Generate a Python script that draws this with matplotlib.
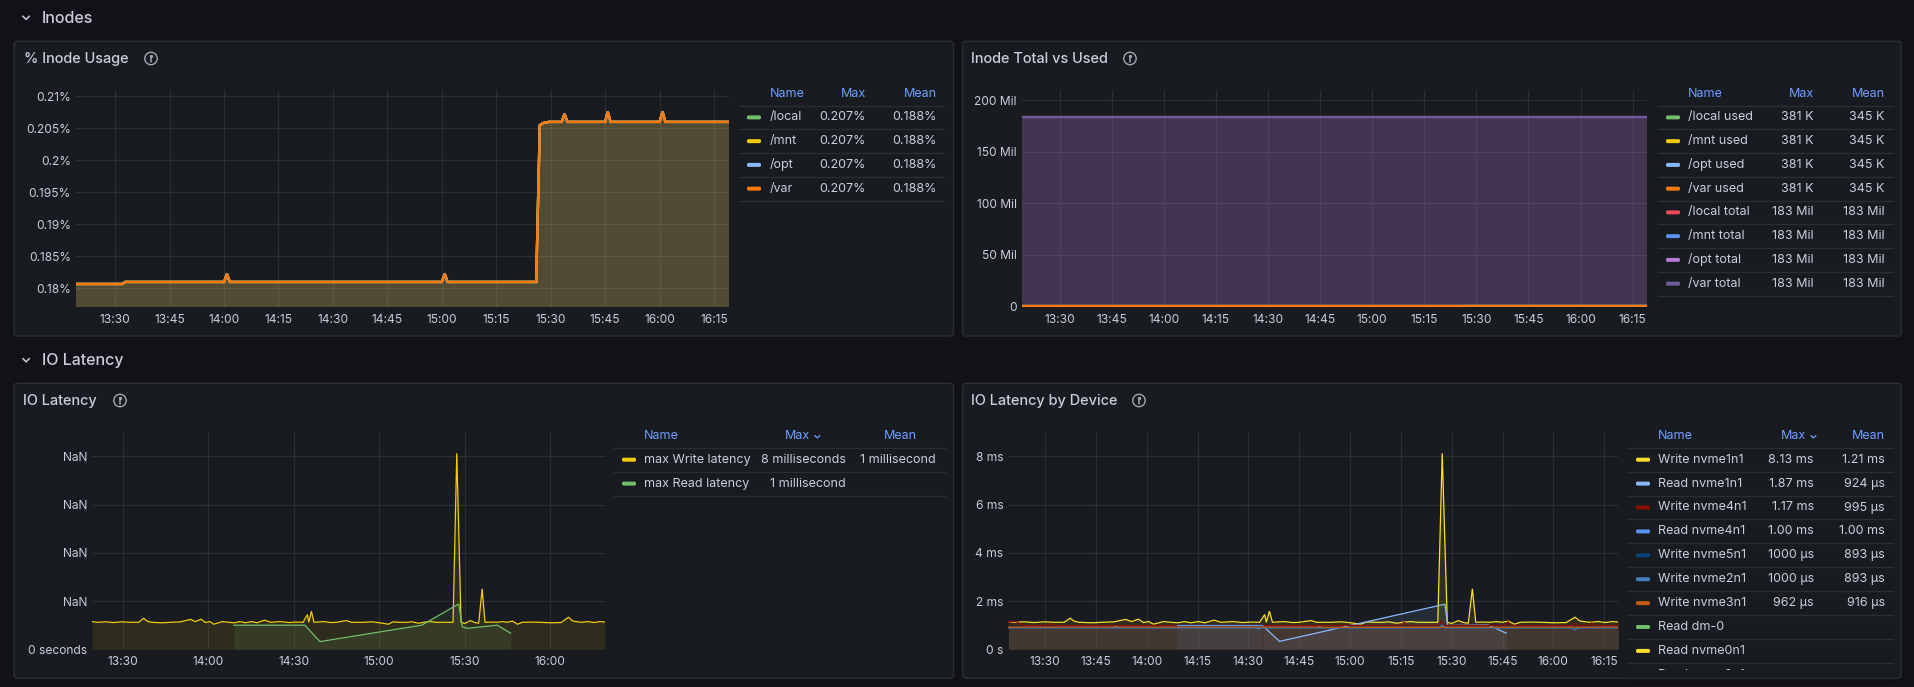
import matplotlib
matplotlib.use("Agg")
import matplotlib.pyplot as plt
from matplotlib.patches import FancyBboxPatch, Rectangle, Circle
from matplotlib.ticker import FixedLocator, FixedFormatter

W, H = 1914, 687
BG = "#111217"
PANEL = "#181b1f"
BORDER = "#2a2d32"
GRID = "#2b2e34"
TEXT = "#ccccdc"
HEAD = "#6e9fff"

plt.rcParams["font.family"] = ["Inter", "DejaVu Sans"]

# time axis in minutes after 13:00
T_START, T_END = 19.2, 199.2
ticks_15 = [30, 45, 60, 75, 90, 105, 120, 135, 150, 165, 180, 195]
labels_15 = ["13:30", "13:45", "14:00", "14:15", "14:30", "14:45",
             "15:00", "15:15", "15:30", "15:45", "16:00", "16:15"]
ticks_30 = [30, 60, 90, 120, 150, 180]
labels_30 = ["13:30", "14:00", "14:30", "15:00", "15:30", "16:00"]

# % Inode Usage (all four mounts report the same values)
inode_pct_t = [19.2, 32.0, 32.8, 60.0, 60.8, 61.6, 120.0, 120.8, 121.6, 146.0, 147.0,
               148.0, 149.5, 153.0, 153.8, 154.6, 165.0, 165.7, 166.5, 180.0, 180.8,
               181.6, 199.2]
inode_pct = [0.18063, 0.18063, 0.18095, 0.18095, 0.1822, 0.18095, 0.18095, 0.1822,
             0.18095, 0.18095, 0.20550, 0.20583, 0.20600, 0.20600, 0.20724, 0.20600,
             0.20600, 0.20760, 0.20600, 0.20600, 0.20760, 0.20600, 0.20600]

# Inode Total vs Used
inode_total_t = [19.2, 199.2]
inode_total = [183.3e6, 183.3e6]
inode_used_t = [19.2, 146.0, 147.0, 199.2]
inode_used = [331e3, 332e3, 377e3, 378e3]

# IO latency, ms
write_t = [19.2, 21.0, 23.9, 26.8, 29.8, 32.7, 35.6, 37.4, 38.5, 40.0, 43.8, 46.7,
           50.3, 53.8, 55.5, 57.5, 59.0, 60.6, 62.0, 64.9, 67.2, 69.2, 71.1, 73.1,
           75.2, 77.2, 79.8, 81.9, 85.4, 88.3, 91.0, 93.3, 94.8, 95.3, 96.2, 97.1,
           100.6, 103.0, 104.9, 108.5, 110.2, 114.4, 117.5, 120.2, 123.2, 124.9,
           127.0, 129.6, 131.5, 133.8, 135.5, 137.9, 140.0, 142.6, 145.9, 147.2,
           148.7, 150.0, 152.0, 153.5, 154.9, 156.1, 157.1, 159.0, 161.4, 163.2,
           164.9, 166.7, 168.5, 170.2, 173.5, 176.7, 180.2, 183.8, 186.4, 187.9,
           190.8, 193.2, 195.5, 197.3, 199.2]
write_ms = [1.15, 1.12, 1.14, 1.11, 1.14, 1.12, 1.12, 1.29, 1.17, 1.12, 1.10, 1.12,
            1.14, 1.24, 1.15, 1.25, 1.11, 1.15, 1.04, 1.15, 1.12, 1.10, 1.15, 1.10,
            1.15, 1.10, 1.21, 1.12, 1.15, 1.11, 1.13, 1.12, 1.44, 1.12, 1.58, 1.12,
            1.15, 1.11, 1.12, 1.19, 1.12, 1.12, 1.14, 1.10, 1.04, 1.14,
            1.12, 1.12, 1.14, 1.08, 1.12, 1.15, 1.12, 1.12, 1.12, 8.13,
            1.12, 1.07, 1.19, 1.11, 1.08, 2.51, 1.12, 1.13, 1.12, 1.15,
            1.12, 1.17, 1.04, 1.12, 1.13, 1.12, 1.10, 1.11, 1.33, 1.17,
            1.12, 1.15, 1.11, 1.15, 1.13]
max_read_t = [69.0, 93.9, 99.2, 134.9, 147.9, 149.1, 150.8, 161.4, 166.1]
max_read_ms = [1.00, 1.00, 0.32, 1.00, 1.88, 0.94, 0.87, 1.00, 0.67]

read_nvme1n1_t = [94.5, 99.2, 148.0, 148.8, 160.7, 166.1]
read_nvme1n1_ms = [0.94, 0.33, 1.87, 0.99, 1.01, 0.67]
read_nvme4n1_t = [69.0, 94.0]
read_nvme4n1_ms = [1.00, 1.00]
write_nvme4n1_t = [19.2, 21.5, 23.5, 30.0, 31.5, 33.0, 100.0, 135.0, 136.0, 137.0,
                   146.0, 146.9, 147.8, 165.8, 166.6, 167.4, 185.5, 186.3, 187.1,
                   190.5, 191.3, 192.1, 199.2]
write_nvme4n1_ms = [1.15, 1.15, 0.99, 0.99, 1.05, 0.99, 0.99, 0.99, 1.12, 0.99,
                    0.99, 1.17, 0.99, 0.99, 1.15, 0.99, 0.99, 1.11, 0.99,
                    0.99, 1.10, 0.99, 0.99]
write_nvme5n1_t = [19.2, 92.0, 93.0, 94.0, 146.3, 147.2, 148.1, 185.5, 186.3, 187.1, 199.2]
write_nvme5n1_ms = [0.89, 0.89, 0.85, 0.89, 0.89, 1.00, 0.89, 0.89, 0.80, 0.89, 0.89]
write_nvme2n1_t = [19.2, 92.0, 93.0, 94.0, 146.3, 147.2, 148.1, 185.5, 186.3, 187.1, 199.2]
write_nvme2n1_ms = [0.89, 0.89, 0.85, 0.89, 0.89, 1.00, 0.89, 0.89, 0.80, 0.89, 0.89]
write_nvme3n1_t = [19.2, 50.0, 51.0, 52.0, 110.0, 111.0, 112.0, 199.2]
write_nvme3n1_ms = [0.92, 0.92, 0.96, 0.92, 0.92, 0.95, 0.91, 0.92]

# legends
p1_names = ["/local", "/mnt", "/opt", "/var"]
p1_colors = ["#73BF69", "#F2CC0C", "#8AB8FF", "#FF780A"]
p1_max = ["0.207%"] * 4
p1_mean = ["0.188%"] * 4

p2_names = ["/local used", "/mnt used", "/opt used", "/var used",
            "/local total", "/mnt total", "/opt total", "/var total"]
p2_colors = ["#73BF69", "#F2CC0C", "#8AB8FF", "#FF780A",
             "#F2495C", "#5794F2", "#B877D9", "#705DA0"]
p2_max = ["381 K"] * 4 + ["183 Mil"] * 4
p2_mean = ["345 K"] * 4 + ["183 Mil"] * 4

p3_names = ["max Write latency", "max Read latency"]
p3_colors = ["#F2CC0C", "#73BF69"]
p3_max = ["8 milliseconds", "1 millisecond"]
p3_mean = ["1 millisecond", ""]

p4_names = ["Write nvme1n1", "Read nvme1n1", "Write nvme4n1", "Read nvme4n1",
            "Write nvme5n1", "Write nvme2n1", "Write nvme3n1", "Read dm-0",
            "Read nvme0n1", "Read nvme2n1"]
p4_colors = ["#FADE2A", "#8AB8FF", "#890F02", "#5794F2", "#0A437C", "#447EBC",
             "#C15C17", "#73BF69", "#FADE2A", "#8AB8FF"]
p4_max = ["8.13 ms", "1.87 ms", "1.17 ms", "1.00 ms", "1000 µs", "1000 µs",
          "962 µs", "", "", ""]
p4_mean = ["1.21 ms", "924 µs", "995 µs", "1.00 ms", "893 µs", "893 µs",
           "916 µs", "", "", ""]


def px(size):
    """pixel size -> points at dpi 100"""
    return size * 0.72


fig = plt.figure(figsize=(W / 100, H / 100), dpi=100, facecolor=BG)
ov = fig.add_axes([0, 0, 1, 1], zorder=0)
ov.set_xlim(0, W)
ov.set_ylim(H, 0)
ov.axis("off")

# ── frame: rows, panels, titles ─────────────────────────────────────────────
for y, label in [(18.3, "Inodes"), (360.7, "IO Latency")]:
    ov.plot([23.0, 26.1, 29.2], [y - 2.0, y + 1.1, y - 2.0], color=TEXT, lw=1.1)
    ov.text(42.0, y, label, color=TEXT, fontsize=px(16), fontweight="medium",
            va="center", ha="left")

panels = [(14, 41.3, 953.5, 336), (962.6, 41.3, 1901.3, 336),
          (14, 383.3, 953.5, 678.3), (962.6, 383.3, 1901.3, 678.3)]
for l, t, r, b in panels:
    ov.add_patch(FancyBboxPatch((l, t), r - l, b - t,
                                boxstyle="round,pad=0,rounding_size=3",
                                fc=PANEL, ec=BORDER, lw=1, zorder=1))

titles = [(23.5, 59.0, "% Inode Usage", 151.0),
          (971.0, 59.0, "Inode Total vs Used", 1130.0),
          (22.7, 401.0, "IO Latency", 120.0),
          (971.0, 401.0, "IO Latency by Device", 1139.0)]
for x, y, txt, ix in titles:
    ov.text(x, y, txt, color=TEXT, fontsize=px(14.5), fontweight="medium",
            va="center", ha="left")
    ov.add_patch(Circle((ix, y - 0.5), 6.2, fill=False, ec="#a4a6b0", lw=1.0,
                        zorder=2))
    ov.plot([ix, ix], [y - 0.8, y + 2.8], color="#a4a6b0", lw=1.1,
            solid_capstyle="round")
    ov.plot([ix], [y - 3.3], marker="o", ms=1.4, color="#a4a6b0")


def plot_axes(l, t, r, b, ylim, yticks, ylabels, xticks, xlabels):
    ax = fig.add_axes([l / W, 1 - b / H, (r - l) / W, (b - t) / H], zorder=1)
    ax.set_facecolor("none")
    ax.set_xlim(T_START, T_END)
    ax.set_ylim(*ylim)
    for s in ax.spines.values():
        s.set_visible(False)
    ax.xaxis.set_major_locator(FixedLocator(xticks))
    ax.xaxis.set_major_formatter(FixedFormatter(xlabels))
    ax.yaxis.set_major_locator(FixedLocator(yticks))
    ax.yaxis.set_major_formatter(FixedFormatter(ylabels))
    ax.tick_params(length=0, labelcolor=TEXT, labelsize=px(12))
    ax.tick_params(axis="x", pad=5)
    ax.tick_params(axis="y", pad=3.6)
    ax.grid(True, color=GRID, lw=0.8)
    ax.set_axisbelow(True)
    return ax


def series(ax, t, v, color, lw):
    ax.fill_between(t, v, 0, color=color, alpha=0.1, lw=0)
    ax.plot(t, v, color=color, lw=lw, solid_joinstyle="miter")


# ── % Inode Usage ──────────────────────────────────────────────────────────
ax1 = plot_axes(75.9, 90, 729.3, 307.3, (0.17698, 0.21099),
                [0.18, 0.185, 0.19, 0.195, 0.2, 0.205, 0.21],
                ["0.18%", "0.185%", "0.19%", "0.195%", "0.2%", "0.205%", "0.21%"],
                ticks_15, labels_15)
for c in p1_colors:
    series(ax1, inode_pct_t, inode_pct, c, 1.7)

# ── Inode Total vs Used ────────────────────────────────────────────────────
ax2 = plot_axes(1022, 90, 1647.2, 307.3, (-0.97e6, 209.7e6),
                [0, 50e6, 100e6, 150e6, 200e6],
                ["0", "50 Mil", "100 Mil", "150 Mil", "200 Mil"],
                ticks_15, labels_15)
for c in p2_colors[:4]:
    series(ax2, inode_used_t, inode_used, c, 1.5)
for c in p2_colors[4:]:
    series(ax2, inode_total_t, inode_total, c, 1.5)

# ── IO Latency ─────────────────────────────────────────────────────────────
ax3 = plot_axes(91.9, 432.3, 605, 649.3, (0, 9.0), [0, 2, 4, 6, 8],
                ["0 seconds", "NaN", "NaN", "NaN", "NaN"], ticks_30, labels_30)
series(ax3, write_t, write_ms, p3_colors[0], 0.9)
series(ax3, max_read_t, max_read_ms, p3_colors[1], 0.9)

# ── IO Latency by Device ───────────────────────────────────────────────────
ax4 = plot_axes(1008.5, 432.3, 1618.4, 649.3, (0, 9.0), [0, 2, 4, 6, 8],
                ["0 s", "2 ms", "4 ms", "6 ms", "8 ms"], ticks_15, labels_15)
p4_data = [(write_t, write_ms), (read_nvme1n1_t, read_nvme1n1_ms),
           (write_nvme4n1_t, write_nvme4n1_ms), (read_nvme4n1_t, read_nvme4n1_ms),
           (write_nvme5n1_t, write_nvme5n1_ms), (write_nvme2n1_t, write_nvme2n1_ms),
           (write_nvme3n1_t, write_nvme3n1_ms)]
for (t, v), c in zip(p4_data, p4_colors):
    series(ax4, t, v, c, 0.9)


# ── legends ────────────────────────────────────────────────────────────────
def legend(names, colors, maxes, means, x_sw, x_name, x_max, x_mean, x_sep,
           y_head, y_row0, y_sep0, pitch, head_max, head_mean, chevron=False):
    fs = px(12.5)
    ov.text(x_name, y_head, "Name", color=HEAD, fontsize=fs, va="center", ha="left")
    ov.text(head_max, y_head, "Max", color=HEAD, fontsize=fs, va="center", ha="right")
    ov.text(head_mean, y_head, "Mean", color=HEAD, fontsize=fs, va="center", ha="right")
    if chevron:
        cx = head_max + 7
        ov.plot([cx - 2.4, cx, cx + 2.4], [y_head, y_head + 2.2, y_head],
                color=HEAD, lw=0.9)
    for i in range(len(names) + 1):
        y = y_sep0 + pitch * i
        ov.plot(x_sep, [y, y], color=BORDER, lw=1)
    for i, (n, c, mx, mn) in enumerate(zip(names, colors, maxes, means)):
        y = y_row0 + pitch * i
        ov.add_patch(FancyBboxPatch((x_sw, y - 2), 14, 4,
                                    boxstyle="round,pad=0,rounding_size=1.6",
                                    fc=c, ec="none", zorder=2))
        ov.text(x_name, y, n, color=TEXT, fontsize=fs, va="center", ha="left")
        ov.text(x_max, y, mx, color=TEXT, fontsize=fs, va="center", ha="right")
        ov.text(x_mean, y, mn, color=TEXT, fontsize=fs, va="center", ha="right")


legend(p1_names, p1_colors, p1_max, p1_mean, 747, 769.7, 865.3, 936.3,
       [739, 944], 93.7, 117.4, 105.5, 23.75, 866, 937)
legend(p2_names, p2_colors, p2_max, p2_mean, 1666, 1688.2, 1813.8, 1884.8,
       [1658, 1893], 93.7, 117.4, 105.5, 23.75, 1813.8, 1884.8)
legend(p3_names, p3_colors, p3_max, p3_mean, 622, 644.3, 846, 936,
       [614, 945], 435.7, 459.7, 447.7, 23.9, 810.3, 917, chevron=True)
legend(p4_names, p4_colors, p4_max, p4_mean, 1636, 1658.2, 1813.8, 1884.8,
       [1628, 1893], 435.7, 459.7, 447.7, 23.9, 1806.4, 1884.8, chevron=True)

# the device legend scrolls: hide the part of the last row below its box
ov.add_patch(Rectangle((1622, 670), 276, 7.6, fc=PANEL, ec="none", zorder=10))

fig.savefig("out.png", dpi=100, facecolor=BG)
